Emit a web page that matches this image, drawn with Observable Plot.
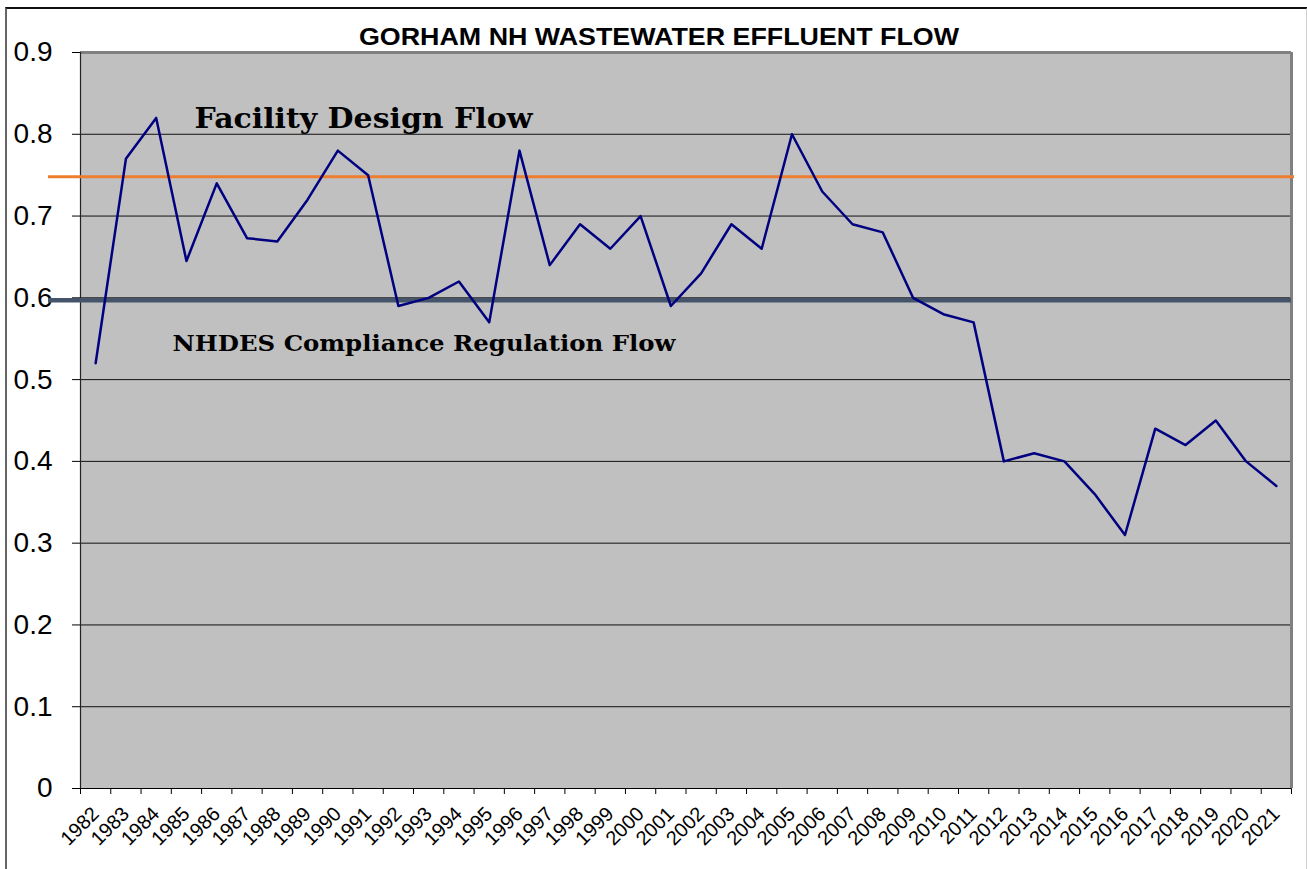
<!DOCTYPE html>
<html>
<head>
<meta charset="utf-8">
<script src="https://cdn.jsdelivr.net/npm/d3@7"></script>
<script src="https://cdn.jsdelivr.net/npm/@observablehq/plot@0.6"></script>
<style>
  html, body { margin: 0; padding: 0; background: #fff; }
  #wrap { position: relative; width: 1307px; height: 869px; overflow: hidden; }
  #border { position: absolute; left: 5px; top: 7px; width: 1299px; height: 900px;
            border-top: 2px solid #111; border-left: 2px solid #666; border-right: 2px solid #d0d0d0; pointer-events: none; }
</style>
</head>
<body>
<div id="wrap"><div id="border"></div></div>
<script>
const title = "GORHAM NH WASTEWATER EFFLUENT FLOW";
const years = [1982,1983,1984,1985,1986,1987,1988,1989,1990,1991,1992,1993,1994,1995,1996,1997,1998,1999,2000,2001,
               2002,2003,2004,2005,2006,2007,2008,2009,2010,2011,2012,2013,2014,2015,2016,2017,2018,2019,2020,2021];
const flow  = [0.52,0.77,0.82,0.645,0.74,0.673,0.669,0.72,0.78,0.75,0.59,0.60,0.62,0.57,0.78,0.64,0.69,0.66,0.70,0.59,
               0.63,0.69,0.66,0.80,0.73,0.69,0.68,0.60,0.58,0.57,0.40,0.41,0.40,0.36,0.31,0.44,0.42,0.45,0.40,0.37];
const yTicks = [0, 0.1, 0.2, 0.3, 0.4, 0.5, 0.6, 0.7, 0.8, 0.9];
const designFlow = 0.748;
const complianceFlow = 0.597;
const designLabel = "Facility Design Flow";
const complianceLabel = "NHDES Compliance Regulation Flow";

const data = years.map((y, i) => ({year: y, flow: flow[i]}));
const boundaries = years.map(y => y - 0.5).concat([years[years.length - 1] + 0.5]);
const x0 = boundaries[0], x1 = boundaries[boundaries.length - 1];

const chart = Plot.plot({
  width: 1307,
  height: 869,
  marginLeft: 80,
  marginRight: 16,
  marginTop: 52,
  marginBottom: 81,
  style: {fontFamily: "'Liberation Sans', Arial, sans-serif", fontSize: "28px", background: "transparent", color: "#000", overflow: "visible"},
  x: {type: "linear", domain: [x0, x1], ticks: boundaries, tickSize: 6, tickFormat: () => "", label: null},
  y: {domain: [0, 0.9], ticks: yTicks, tickSize: 8, tickPadding: 20, tickFormat: d => d === 0 ? "0" : d.toFixed(1), label: null},
  marks: [
    Plot.frame({fill: "#C0C0C0", stroke: "none"}),
    Plot.ruleY(yTicks, {stroke: "#111", strokeWidth: 1}),
    Plot.ruleY([0.9], {stroke: "#808080", strokeWidth: 3}),
    Plot.ruleX([x1], {stroke: "#808080", strokeWidth: 3}),
    Plot.ruleX([x0], {stroke: "#222", strokeWidth: 1.2}),
    Plot.ruleY([0], {stroke: "#000", strokeWidth: 1.2}),
    Plot.ruleY([designFlow], {stroke: "#ED7D31", strokeWidth: 3, insetLeft: -32, insetRight: -3}),
    Plot.ruleY([complianceFlow], {stroke: "#44546A", strokeWidth: 4.5, insetLeft: -32}),
    Plot.line(data, {x: "year", y: "flow", stroke: "#000080", strokeWidth: 2.5}),
    Plot.text(years, {x: d => d, frameAnchor: "bottom", text: d => String(d), rotate: -45, textAnchor: "end",
      lineAnchor: "middle", dx: 0, dy: 22, fontSize: 20, fill: "#000"}),
    Plot.text([designLabel], {frameAnchor: "top-left", text: d => d, textAnchor: "start", lineAnchor: "bottom",
      dx: 114, dy: 75, fontSize: 27, fontWeight: "bold", fontFamily: "'DejaVu Serif', serif", fill: "#000"}),
    Plot.text([complianceLabel], {frameAnchor: "top-left", text: d => d, textAnchor: "start", lineAnchor: "bottom",
      dx: 92, dy: 298, fontSize: 22, fontWeight: "bold", fontFamily: "'DejaVu Serif', serif", fill: "#000"}),
    Plot.text([title], {frameAnchor: "top", text: d => d, textAnchor: "middle", lineAnchor: "bottom",
      dx: -27, dy: -8, fontSize: 23, fontWeight: "bold", fill: "#000"})
  ]
});
document.getElementById("wrap").prepend(chart);

// fit label widths to the reference
const widths = {};
widths[designLabel] = 338;
widths[complianceLabel] = 503;
widths[title] = 600;
chart.querySelectorAll("text").forEach(t => {
  const w = widths[t.textContent];
  if (w) { t.setAttribute("textLength", w); t.setAttribute("lengthAdjust", "spacingAndGlyphs"); }
});
</script>
</body>
</html>
